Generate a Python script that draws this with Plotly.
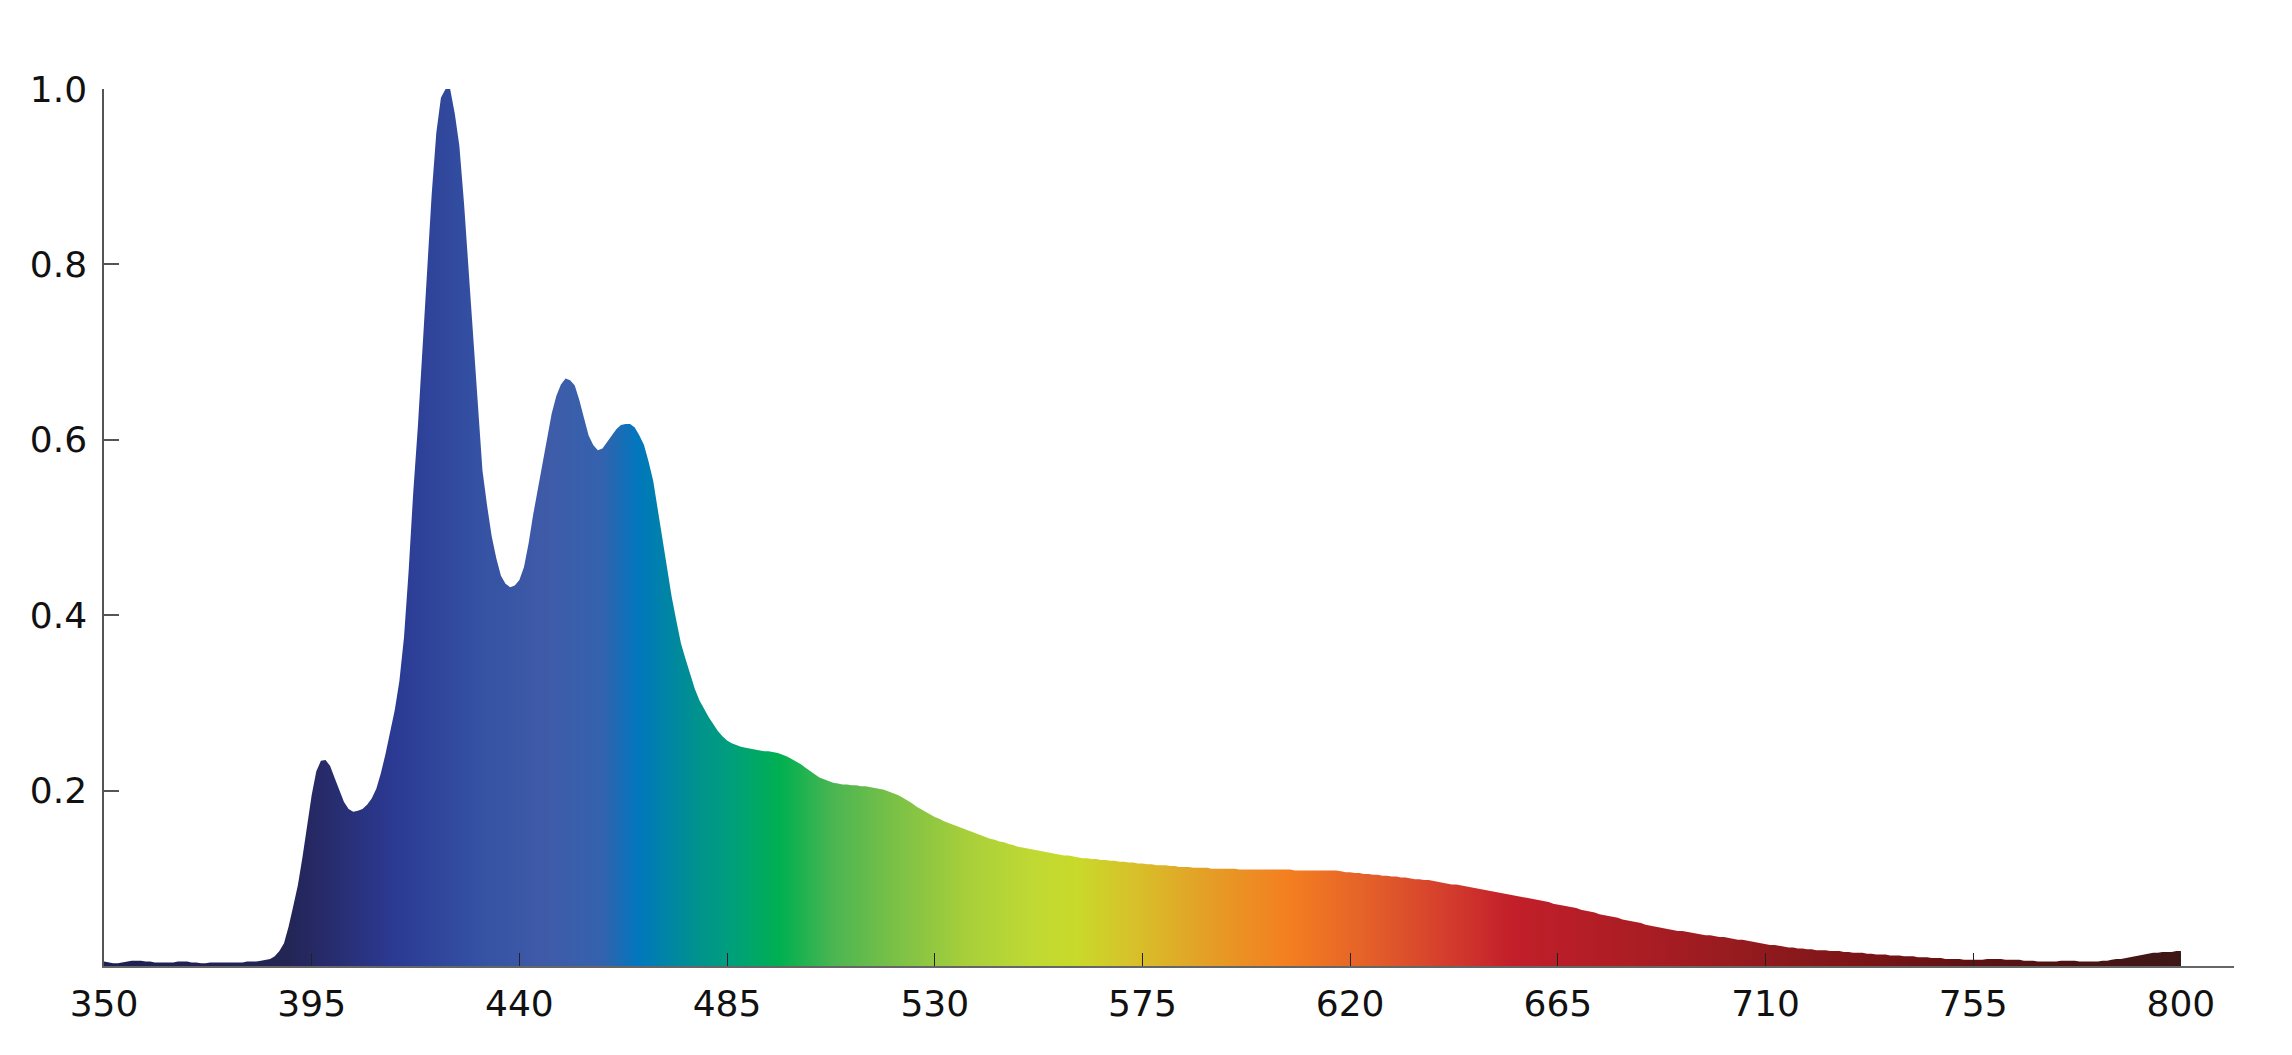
import plotly.graph_objects as go

# Wavelength grid (nm) and relative spectral intensity
WL_START, WL_END = 350, 800
wavelengths = list(range(WL_START, WL_END + 1))

intensity = [
    0.005, 0.004, 0.003, 0.003, 0.004, 0.005, 0.006, 0.006, 0.006, 0.005,  # 350
    0.005, 0.004, 0.004, 0.004, 0.004, 0.004, 0.005, 0.005, 0.005, 0.004,  # 360
    0.004, 0.003, 0.003, 0.004, 0.004, 0.004, 0.004, 0.004, 0.004, 0.004,  # 370
    0.004, 0.005, 0.005, 0.005, 0.006, 0.007, 0.008, 0.011, 0.017, 0.026,  # 380
    0.045, 0.068, 0.092, 0.124, 0.160, 0.195, 0.222, 0.234, 0.235, 0.228,  # 390
    0.214, 0.200, 0.187, 0.179, 0.176, 0.177, 0.179, 0.184, 0.191, 0.202,  # 400
    0.220, 0.242, 0.268, 0.292, 0.325, 0.375, 0.450, 0.540, 0.615, 0.705,  # 410
    0.795, 0.880, 0.950, 0.990, 1.000, 1.000, 0.972, 0.935, 0.870, 0.795,  # 420
    0.710, 0.645, 0.565, 0.525, 0.490, 0.465, 0.445, 0.436, 0.432, 0.434,  # 430
    0.440, 0.455, 0.482, 0.515, 0.545, 0.570, 0.600, 0.630, 0.650, 0.663,  # 440
    0.670, 0.668, 0.662, 0.645, 0.625, 0.605, 0.594, 0.588, 0.590, 0.597,  # 450
    0.605, 0.612, 0.617, 0.618, 0.618, 0.614, 0.605, 0.594, 0.575, 0.553,  # 460
    0.520, 0.487, 0.455, 0.421, 0.394, 0.368, 0.350, 0.332, 0.316, 0.303,  # 470
    0.293, 0.284, 0.276, 0.268, 0.262, 0.257, 0.254, 0.252, 0.250, 0.249,  # 480
    0.248, 0.247, 0.246, 0.245, 0.245, 0.244, 0.243, 0.241, 0.239, 0.236,  # 490
    0.233, 0.230, 0.226, 0.222, 0.218, 0.215, 0.213, 0.211, 0.209, 0.208,  # 500
    0.207, 0.207, 0.206, 0.206, 0.205, 0.205, 0.204, 0.203, 0.202, 0.201,  # 510
    0.199, 0.197, 0.195, 0.192, 0.189, 0.186, 0.182, 0.179, 0.176, 0.173,  # 520
    0.170, 0.168, 0.165, 0.163, 0.161, 0.159, 0.157, 0.155, 0.153, 0.151,  # 530
    0.149, 0.147, 0.145, 0.144, 0.142, 0.141, 0.139, 0.138, 0.136, 0.135,  # 540
    0.134, 0.133, 0.132, 0.131, 0.130, 0.129, 0.128, 0.127, 0.126, 0.126,  # 550
    0.125, 0.124, 0.123, 0.123, 0.122, 0.122, 0.121, 0.121, 0.120, 0.120,  # 560
    0.119, 0.119, 0.118, 0.118, 0.117, 0.117, 0.116, 0.116, 0.115, 0.115,  # 570
    0.115, 0.114, 0.114, 0.113, 0.113, 0.113, 0.112, 0.112, 0.112, 0.112,  # 580
    0.111, 0.111, 0.111, 0.111, 0.111, 0.111, 0.110, 0.110, 0.110, 0.110,  # 590
    0.110, 0.110, 0.110, 0.110, 0.110, 0.110, 0.110, 0.110, 0.109, 0.109,  # 600
    0.109, 0.109, 0.109, 0.109, 0.109, 0.109, 0.109, 0.109, 0.108, 0.107,  # 610
    0.107, 0.106, 0.106, 0.105, 0.105, 0.104, 0.104, 0.103, 0.103, 0.102,  # 620
    0.102, 0.101, 0.101, 0.100, 0.099, 0.099, 0.098, 0.098, 0.097, 0.096,  # 630
    0.095, 0.094, 0.093, 0.093, 0.092, 0.091, 0.090, 0.089, 0.088, 0.087,  # 640
    0.086, 0.085, 0.084, 0.083, 0.082, 0.081, 0.080, 0.079, 0.078, 0.077,  # 650
    0.076, 0.075, 0.074, 0.073, 0.071, 0.070, 0.069, 0.068, 0.067, 0.066,  # 660
    0.064, 0.063, 0.062, 0.061, 0.059, 0.058, 0.057, 0.056, 0.055, 0.053,  # 670
    0.052, 0.051, 0.050, 0.049, 0.047, 0.046, 0.045, 0.044, 0.043, 0.042,  # 680
    0.041, 0.040, 0.040, 0.039, 0.038, 0.037, 0.036, 0.035, 0.035, 0.034,  # 690
    0.033, 0.033, 0.032, 0.031, 0.030, 0.030, 0.029, 0.028, 0.027, 0.026,  # 700
    0.025, 0.024, 0.024, 0.023, 0.022, 0.021, 0.021, 0.020, 0.020, 0.019,  # 710
    0.019, 0.018, 0.018, 0.018, 0.017, 0.017, 0.017, 0.016, 0.016, 0.015,  # 720
    0.015, 0.015, 0.014, 0.014, 0.013, 0.013, 0.013, 0.012, 0.012, 0.012,  # 730
    0.011, 0.011, 0.011, 0.010, 0.010, 0.010, 0.009, 0.009, 0.009, 0.008,  # 740
    0.008, 0.008, 0.008, 0.007, 0.007, 0.007, 0.007, 0.007, 0.008, 0.008,  # 750
    0.008, 0.008, 0.007, 0.007, 0.007, 0.007, 0.006, 0.006, 0.006, 0.005,  # 760
    0.005, 0.005, 0.005, 0.005, 0.006, 0.006, 0.006, 0.006, 0.005, 0.005,  # 770
    0.005, 0.005, 0.005, 0.006, 0.006, 0.007, 0.008, 0.008, 0.009, 0.010,  # 780
    0.011, 0.012, 0.013, 0.014, 0.015, 0.015, 0.016, 0.016, 0.016, 0.017,  # 790
    0.017,                                                                  # 800
]
assert len(intensity) == len(wavelengths)

# Spectral colour stops (nm -> colour) for the gradient fill
gradient_nm = [350, 390, 398, 413, 431, 446, 458, 465.7, 478, 486, 496.5,
               508, 522, 537, 551, 560.5, 573, 585, 596, 606.5, 626, 642,
               655, 680, 700, 732, 753, 775, 800]
gradient_colors = ["#1f2052", "#232555", "#272b6b", "#2b3a93", "#3451a3",
                   "#3f5ba8", "#3462ae", "#0077bd", "#00918f", "#009f7c",
                   "#00b050", "#4bb552", "#7cc146", "#a8cf3a", "#bfd934",
                   "#c8da2a", "#d7c12a", "#e1a727", "#ea9124", "#f47f20",
                   "#e25c2a", "#d33b2d", "#c21f2a", "#ad1d24", "#9a1c20",
                   "#7a1517", "#601213", "#4c1414", "#3d1717"]

# Axis ticks
x_tick_values = [350, 395, 440, 485, 530, 575, 620, 665, 710, 755, 800]
y_tick_values = [0.2, 0.4, 0.6, 0.8, 1.0]

span = gradient_nm[-1] - gradient_nm[0]
colorscale = [[(nm - gradient_nm[0]) / span, c] for nm, c in zip(gradient_nm, gradient_colors)]

fig = go.Figure()
fig.add_trace(go.Scatter(
    x=wavelengths,
    y=intensity,
    mode="lines",
    line=dict(width=0, color="rgba(0,0,0,0)"),
    fill="tozeroy",
    fillgradient=dict(type="horizontal", colorscale=colorscale,
                      start=gradient_nm[0], stop=gradient_nm[-1]),
    hoverinfo="x+y",
    showlegend=False,
))

FONT = "DejaVu Sans, Verdana, sans-serif"
FS = 36

# The page body adds an 8px offset; the figure is sized to compensate.
fig.update_layout(
    width=2276,
    height=1039,
    margin=dict(l=96, r=50, t=81, b=81, pad=0),
    paper_bgcolor="white",
    plot_bgcolor="white",
    font=dict(family=FONT, size=FS, color="#111111"),
    xaxis=dict(
        range=[350, 811.5],
        tickmode="array",
        tickvals=x_tick_values,
        ticktext=[str(v) for v in x_tick_values],
        ticks="inside",
        ticklen=13,
        tickwidth=1,
        tickcolor="#222222",
        showline=True,
        linecolor="#666666",
        linewidth=2,
        showgrid=False,
        zeroline=False,
        ticklabelstandoff=5,
        tickfont=dict(family=FONT, size=FS, color="#111111"),
    ),
    yaxis=dict(
        range=[0, 1.0],
        tickmode="array",
        tickvals=y_tick_values,
        ticktext=[f"{v:.1f}" for v in y_tick_values],
        ticks="inside",
        ticklen=15,
        tickwidth=1.5,
        tickcolor="#555555",
        showline=True,
        linecolor="#555555",
        linewidth=1.5,
        showgrid=False,
        zeroline=False,
        ticklabelstandoff=8,
        tickfont=dict(family=FONT, size=FS, color="#111111"),
    ),
)

fig.write_html("out.html")
